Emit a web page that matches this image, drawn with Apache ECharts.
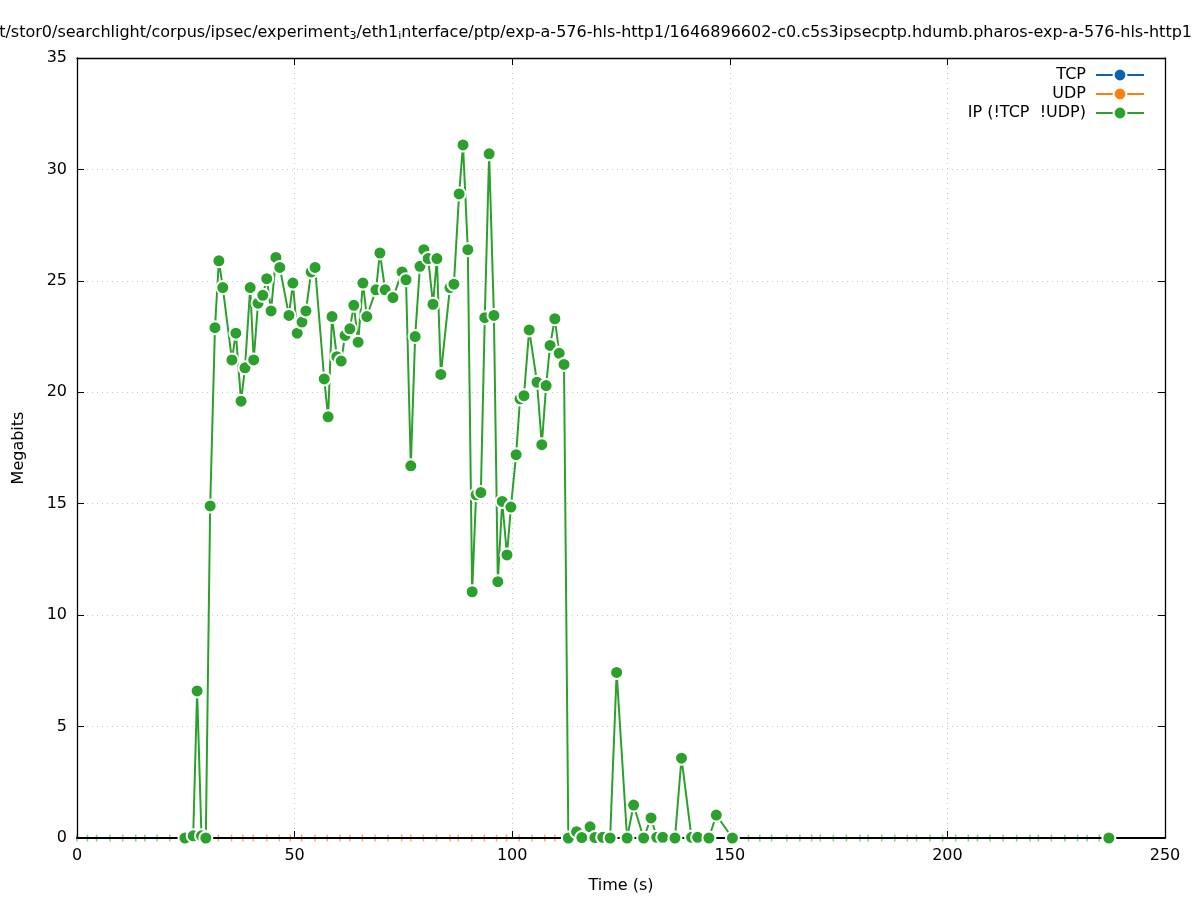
<!DOCTYPE html>
<html>
<head>
<meta charset="utf-8">
<script src="https://cdn.jsdelivr.net/npm/echarts@6/dist/echarts.min.js"></script>
<style>html,body{margin:0;padding:0;background:#fff}#c{width:1197px;height:900px}</style>
</head>
<body>
<div id="c"></div>
<script>
// ---- data ----
const xTicks = [0, 50, 100, 150, 200, 250];
const yTicks = [0, 5, 10, 15, 20, 25, 30, 35];

const tcpT = [];
const tcpV = [];

const udpT = [32.5, 35.5, 38.1, 40.5, 43.6, 46.5, 49.0, 51.6, 54.7, 57.5, 60.4, 62.7, 65.6, 68.5, 71.5, 74.6, 76.7, 79.6, 82.6, 85.7, 87.6, 90.7, 93.6, 96.4, 98.7, 101.6, 104.6, 107.5, 109.8];
const udpV = [0,0,0,0,0,0,0,0,0,0,0,0,0,0,0,0,0,0,0,0,0,0,0,0,0,0,0,0,0];

const ipT = [24.8, 26.7, 27.6, 28.6, 29.6, 30.6, 31.7, 32.6, 33.5, 35.6, 36.5, 37.7, 38.6, 39.8, 40.6, 41.6, 42.7, 43.6, 44.6, 45.7, 46.6,
  48.7, 49.6, 50.6, 51.7, 52.6, 53.8, 54.7, 56.8, 57.7, 58.6, 59.7, 60.7, 61.6, 62.7, 63.6, 64.6, 65.7, 66.6,
  68.7, 69.6, 70.8, 72.6, 74.7, 75.6, 76.7, 77.7, 78.8, 79.7, 80.7, 81.8, 82.7, 83.6, 85.7, 86.6, 87.8, 88.7, 89.8,
  90.8, 91.7, 92.8, 93.7, 94.7, 95.8, 96.7, 97.7, 98.8, 99.7, 100.9, 101.8, 102.7, 103.9, 105.7, 106.8, 107.8, 108.7,
  109.8, 110.8, 111.9, 112.9, 114.8, 116.0, 117.9, 119.0, 120.8, 122.5, 124.0, 126.4, 127.9, 130.2, 131.9, 133.2, 134.6,
  137.4, 138.9, 141.2, 142.6, 145.2, 146.9, 150.6, 237.1];
const ipV = [0.0, 0.1, 6.6, 0.1, 0.0, 14.9, 22.9, 25.9, 24.7, 21.45, 22.65, 19.6, 21.1, 24.7, 21.45, 24.0, 24.35, 25.1, 23.65, 26.05, 25.6,
  23.45, 24.9, 22.65, 23.15, 23.65, 25.4, 25.6, 20.6, 18.9, 23.4, 21.6, 21.4, 22.55, 22.85, 23.9, 22.25, 24.9, 23.4,
  24.6, 26.25, 24.6, 24.25, 25.4, 25.05, 16.7, 22.5, 25.65, 26.4, 26.0, 23.95, 26.0, 20.8, 24.7, 24.85, 28.9, 31.1, 26.4,
  11.05, 15.4, 15.5, 23.35, 30.7, 23.45, 11.5, 15.1, 12.7, 14.85, 17.2, 19.7, 19.85, 22.8, 20.45, 17.65, 20.3, 22.1,
  23.3, 21.75, 21.25, 0.0, 0.28, 0.02, 0.5, 0.02, 0.03, 0.0, 7.43, 0.0, 1.48, 0.0, 0.9, 0.03, 0.03,
  0.0, 3.58, 0.03, 0.03, 0.0, 1.03, 0.0, 0.0];

const ipTickT = [0.0, 2.4, 4.5, 7.6, 10.5, 13.5, 15.6, 18.4, 21.3,
  154.3, 156.9, 159.6, 163.1, 166.1, 168.8, 170.8, 173.8, 176.8, 179.9, 181.8, 184.9, 187.9, 190.8, 192.9, 196.0,
  198.9, 201.9, 204.8, 206.9, 209.8, 212.8, 215.9, 219.0, 220.9, 223.9, 227.0, 229.9, 232.1, 234.9];

const names = ['TCP', 'UDP', 'IP (!TCP  !UDP)'];
const colors = ['#0b62b0', '#ff7f0e', '#2ca02c'];

// ---- build ----
const zip = (t, v) => t.map((x, i) => [x, v[i]]);
const ticks = t => t.map(x => [x, 0]);
const FONT = 'DejaVu Sans';

const chart = echarts.init(document.getElementById('c'), null, {renderer: 'canvas'});

function lineSeries(name, color, data, lineOpacity) {
  return {
    name: name, type: 'line', data: data, xAxisIndex: 0, yAxisIndex: 0,
    symbol: 'circle', symbolSize: 13, showSymbol: false, z: 2,
    color: color,
    lineStyle: {color: color, width: 2, opacity: lineOpacity},
    itemStyle: {color: color, borderColor: '#fff', borderWidth: 2},
    animation: false
  };
}

const border = {show: true, onZero: false, lineStyle: {color: '#000', width: 1.3}};
const bottomBorder = {show: true, onZero: false, lineStyle: {color: '#000', width: 2}};
const inTick = {show: true, inside: true, length: 7, lineStyle: {color: '#000'}};
const grid = {show: true, lineStyle: {color: '#c8c8c8', type: [1, 4], width: 1}};

const option = {
  animation: false,
  backgroundColor: '#fff',
  title: {
    text: 't/stor0/searchlight/corpus/ipsec/experiment{s|3}/eth1{s|i}nterface/ptp/exp-a-576-hls-http1/1646896602-c0.c5s3ipsecptp.hdumb.pharos-exp-a-576-hls-http1',
    right: 0, top: 19,
    textStyle: {
      fontFamily: FONT, fontSize: 16, fontWeight: 'normal', color: '#000', lineHeight: 18,
      rich: {s: {fontFamily: FONT, fontSize: 11, lineHeight: 6, verticalAlign: 'bottom', color: '#000'}}
    }
  },
  legend: {
    data: [
      {name: names[0], lineStyle: {color: colors[0], width: 2, opacity: 1}},
      {name: names[1], lineStyle: {color: colors[1], width: 2, opacity: 1}},
      {name: names[2], lineStyle: {color: colors[2], width: 2, opacity: 1}}
    ],
    orient: 'vertical',
    right: 47, top: 62,
    align: 'right',
    itemWidth: 48, itemHeight: 16, itemGap: 3,
    textStyle: {fontFamily: FONT, fontSize: 16, color: '#000', padding: [0, 5, 0, 0]},
    selectedMode: false
  },
  grid: {left: 77, right: 32, top: 58, bottom: 62, containLabel: false},
  xAxis: [{
    type: 'value', min: 0, max: 250, interval: 50, position: 'bottom', z: 3,
    name: 'Time (s)', nameLocation: 'middle', nameGap: 40,
    nameTextStyle: {fontFamily: FONT, fontSize: 16, color: '#000'},
    axisLine: bottomBorder, axisTick: inTick,
    axisLabel: {fontFamily: FONT, fontSize: 16, color: '#000', margin: 10},
    splitLine: {show: false}
  }, {
    type: 'value', min: 0, max: 250, interval: 50, position: 'top', z: 3,
    axisLine: border, axisTick: inTick,
    axisLabel: {show: false}, splitLine: {show: false}
  }, {
    type: 'value', min: 0, max: 250, interval: 50, position: 'bottom', z: 0,
    axisLine: {show: false}, axisTick: {show: false}, axisLabel: {show: false},
    splitLine: grid
  }],
  yAxis: [{
    type: 'value', min: 0, max: 35, interval: 5, position: 'left', z: 3,
    name: 'Megabits', nameLocation: 'middle', nameGap: 50, nameRotate: 90,
    nameTextStyle: {fontFamily: FONT, fontSize: 16, color: '#000'},
    axisLine: border, axisTick: inTick,
    axisLabel: {fontFamily: FONT, fontSize: 16, color: '#000', margin: 10},
    splitLine: {show: false}
  }, {
    type: 'value', min: 0, max: 35, interval: 5, position: 'right', z: 3,
    axisLine: border, axisTick: inTick,
    axisLabel: {show: false}, splitLine: {show: false}
  }, {
    type: 'value', min: 0, max: 35, interval: 5, position: 'left', z: 0,
    axisLine: {show: false}, axisTick: {show: false}, axisLabel: {show: false},
    splitLine: grid
  }],
  series: [
    lineSeries(names[0], colors[0], zip(tcpT, tcpV), 1),
    lineSeries(names[1], colors[1], zip(udpT, udpV), 0),
    lineSeries(names[2], colors[2], zip(ipT, ipV), 1),
    {
      name: 'udp-ticks', type: 'scatter', data: ticks(udpT), z: 1,
      symbol: 'rect', symbolSize: [1.5, 7],
      itemStyle: {color: colors[1], opacity: 0.65}, silent: true
    },
    {
      name: 'ip-ticks', type: 'scatter', data: ticks(ipTickT), z: 1,
      symbol: 'rect', symbolSize: [1.5, 7],
      itemStyle: {color: colors[2], opacity: 0.55}, silent: true
    },
    {
      name: 'ip-points', type: 'scatter', data: zip(ipT, ipV), z: 5,
      symbol: 'circle', symbolSize: 13,
      itemStyle: {color: colors[2], borderColor: '#fff', borderWidth: 2, opacity: 1},
      silent: true
    }
  ]
};
chart.setOption(option);
</script>
</body>
</html>
